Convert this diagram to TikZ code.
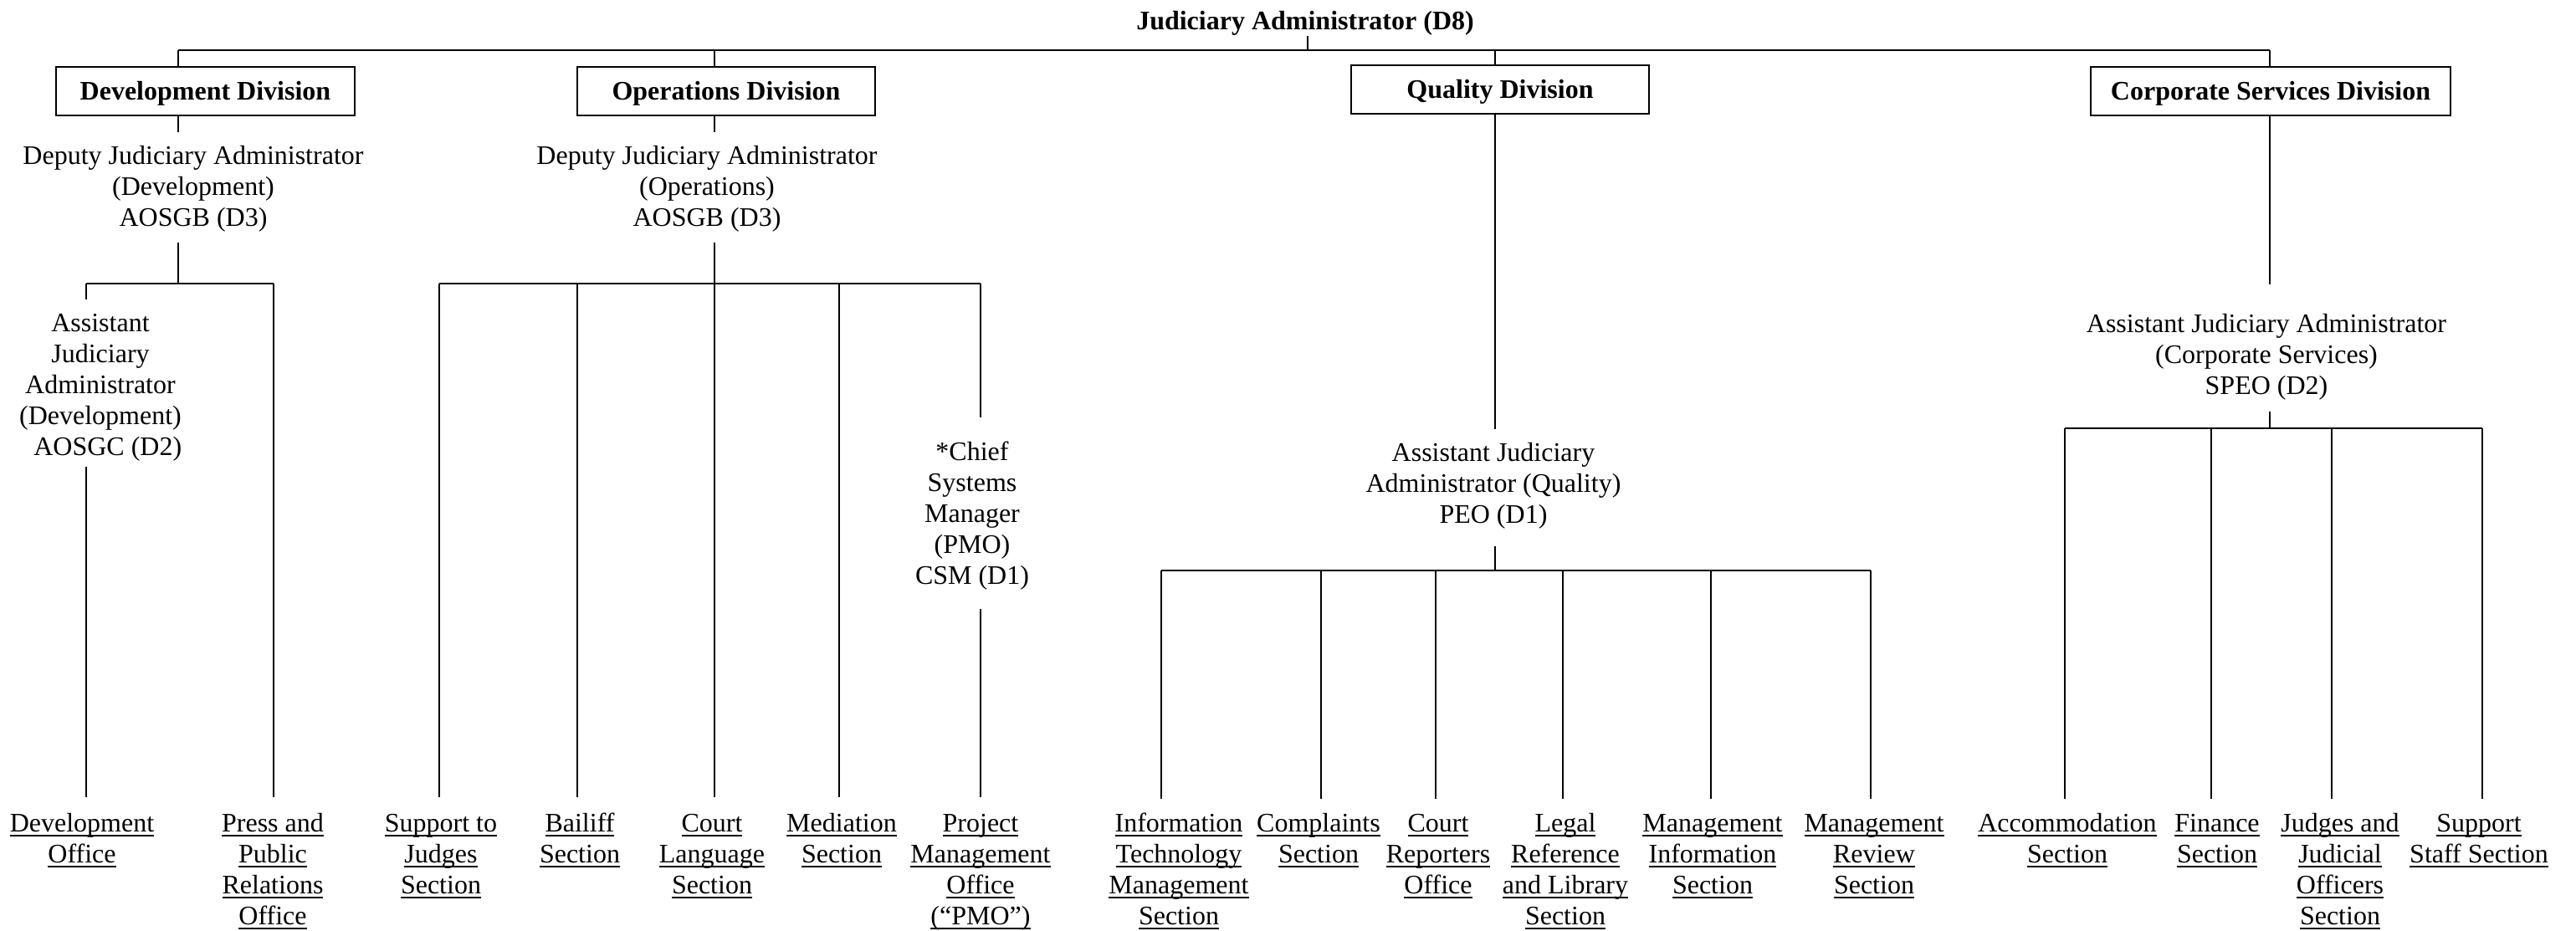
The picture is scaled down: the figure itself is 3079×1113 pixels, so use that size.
\documentclass[tikz,border=0pt]{standalone}
\usepackage{fontspec}
\setmainfont{Liberation Serif}
\usetikzlibrary{calc}
\newsavebox\ulbox
\newcommand\ulin[1]{\sbox\ulbox{#1}\makebox[0pt][l]{\rule[-5.6pt]{\wd\ulbox}{1.9pt}}\smash{\usebox\ulbox}}
\tikzset{
  bx/.style={draw, line width=2pt, minimum height=58pt, inner sep=0pt,
    font=\fontsize{32}{37}\selectfont\bfseries, text height=21pt, text depth=0pt},
  tx/.style={align=center, inner sep=0pt, anchor=north},
  lab/.style={align=center, inner sep=0pt, anchor=north},
  ln/.style={line width=1.6pt},
  bus/.style={line width=2.4pt},
}
\begin{document}
\begin{tikzpicture}[x=1pt,y=-1pt,font=\fontsize{32}{37}\selectfont]
\useasboundingbox (0,0) rectangle (3079,1113);

% top
\node[anchor=base, font=\fontsize{32}{37}\selectfont\bfseries] (ja) at (1560,36) {Judiciary Administrator (D8)};

% division boxes
\node[bx, minimum width=357pt] (devbox) at (245.5,109) {Development Division};
\node[bx, minimum width=356pt] (opsbox) at (868,109) {Operations Division};
\node[bx, minimum width=356pt] (qbox) at (1793,107) {Quality Division};
\node[bx, minimum width=430pt] (corpbox) at (2714,109) {Corporate Services Division};

% officer texts
\node[tx] (dep1) at (231,174) {Deputy Judiciary Administrator\\(Development)\\AOSGB (D3)};
\node[tx] (dep2) at (845,174) {Deputy Judiciary Administrator\\(Operations)\\AOSGB (D3)};
\node[tx] (asd) at (120,375) {Assistant\\Judiciary\\Administrator\\(Development)\\\hspace*{0.55em}AOSGC (D2)};
\node[tx] (csm) at (1162,528) {*Chief\\Systems\\Manager\\(PMO)\\CSM (D1)};
\node[tx] (aq) at (1785,529) {Assistant Judiciary\\Administrator (Quality)\\PEO (D1)};
\node[tx] (acs) at (2709,375) {Assistant Judiciary Administrator\\(Corporate Services)\\SPEO (D2)};

% bottom labels
\node[lab] (l1) at (98,994) {\ulin{Development}\\\ulin{Office}};
\node[lab] (l2) at (326,994) {\ulin{Press and}\\\ulin{Public}\\\ulin{Relations}\\\ulin{Office}};
\node[lab] (l3) at (527,994) {\ulin{Support to}\\\ulin{Judges}\\\ulin{Section}};
\node[lab] (l4) at (693,994) {\ulin{Bailiff}\\\ulin{Section}};
\node[lab] (l5) at (851,994) {\ulin{Court}\\\ulin{Language}\\\ulin{Section}};
\node[lab] (l6) at (1006,994) {\ulin{Mediation}\\\ulin{Section}};
\node[lab] (l7) at (1172,994) {\ulin{Project}\\\ulin{Management}\\\ulin{Office}\\\ulin{(“PMO”)}};
\node[lab] (q1) at (1409,994) {\ulin{Information}\\\ulin{Technology}\\\ulin{Management}\\\ulin{Section}};
\node[lab] (q2) at (1576,994) {\ulin{Complaints}\\\ulin{Section}};
\node[lab] (q3) at (1719,994) {\ulin{Court}\\\ulin{Reporters}\\\ulin{Office}};
\node[lab] (q4) at (1871,994) {\ulin{Legal}\\\ulin{Reference}\\\ulin{and Library}\\\ulin{Section}};
\node[lab] (q5) at (2047,994) {\ulin{Management}\\\ulin{Information}\\\ulin{Section}};
\node[lab] (q6) at (2240,994) {\ulin{Management}\\\ulin{Review}\\\ulin{Section}};
\node[lab] (c1) at (2471,994) {\ulin{Accommodation}\\\ulin{Section}};
\node[lab] (c2) at (2650,994) {\ulin{Finance}\\\ulin{Section}};
\node[lab] (c3) at (2797,994) {\ulin{Judges and}\\\ulin{Judicial}\\\ulin{Officers}\\\ulin{Section}};
\node[lab] (c4) at (2963,994) {\ulin{Support}\\\ulin{Staff Section}};

% top bus
\coordinate (tj) at (1563,60);
\coordinate (tdev) at (213,60);
\coordinate (tops) at (854,60);
\coordinate (tq) at (1787,60);
\coordinate (tcorp) at (2713,60);
\draw[bus] (tdev) -- (tcorp);
\draw[ln] ($(ja.south -| tj)+(0,-3)$) -- (tj);
\draw[ln] (tdev) -- (tdev |- devbox.north);
\draw[ln] (tops) -- (tops |- opsbox.north);
\draw[ln] (tq) -- (tq |- qbox.north);
\draw[ln] (tcorp) -- (tcorp |- corpbox.north);

% development
\coordinate (bdev) at (213,339);
\coordinate (bdevL) at (103,339);
\coordinate (bdevR) at (327,339);
\draw[ln] (devbox.south -| tdev) -- ($(dep1.north -| tdev)+(0,-16)$);
\draw[ln] ($(dep1.south -| tdev)+(0,13)$) -- (bdev);
\draw[bus] (bdevL) -- (bdevR);
\draw[ln] (bdevL) -- ($(asd.north -| bdevL)+(0,-17)$);
\draw[ln] ($(asd.south -| bdevL)+(0,7)$) -- ($(l1.north -| bdevL)+(0,-41)$);
\draw[ln] (bdevR) -- ($(l2.north -| bdevR)+(0,-41)$);

% operations
\coordinate (bops) at (854,339);
\coordinate (o1) at (525,339);
\coordinate (o2) at (690,339);
\coordinate (o4) at (1003,339);
\coordinate (o5) at (1172,339);
\draw[ln] (opsbox.south -| tops) -- ($(dep2.north -| tops)+(0,-16)$);
\draw[ln] ($(dep2.south -| tops)+(0,13)$) -- (bops);
\draw[bus] (o1) -- (o5);
\draw[ln] (o1) -- ($(l3.north -| o1)+(0,-41)$);
\draw[ln] (o2) -- ($(l4.north -| o2)+(0,-41)$);
\draw[ln] (bops) -- ($(l5.north -| bops)+(0,-41)$);
\draw[ln] (o4) -- ($(l6.north -| o4)+(0,-41)$);
\draw[ln] (o5) -- ($(csm.north -| o5)+(0,-29)$);
\draw[ln] ($(csm.south -| o5)+(0,22)$) -- ($(l7.north -| o5)+(0,-41)$);

% quality
\coordinate (bq) at (1787,682);
\coordinate (qa) at (1388,682);
\coordinate (qb) at (1579,682);
\coordinate (qc) at (1716,682);
\coordinate (qd) at (1868,682);
\coordinate (qe) at (2045,682);
\coordinate (qf) at (2236,682);
\draw[ln] (qbox.south -| tq) -- ($(aq.north -| tq)+(0,-16)$);
\draw[ln] ($(aq.south -| tq)+(0,21)$) -- (bq);
\draw[bus] (qa) -- (qf);
\draw[ln] (qa) -- ($(q1.north -| qa)+(0,-39)$);
\draw[ln] (qb) -- ($(q2.north -| qb)+(0,-39)$);
\draw[ln] (qc) -- ($(q3.north -| qc)+(0,-39)$);
\draw[ln] (qd) -- ($(q4.north -| qd)+(0,-39)$);
\draw[ln] (qe) -- ($(q5.north -| qe)+(0,-39)$);
\draw[ln] (qf) -- ($(q6.north -| qf)+(0,-39)$);

% corporate services
\coordinate (bc) at (2713,512);
\coordinate (ca) at (2468,512);
\coordinate (cb) at (2643,512);
\coordinate (cc) at (2787,512);
\coordinate (cd) at (2967,512);
\draw[ln] (corpbox.south -| tcorp) -- ($(acs.north -| tcorp)+(0,-35)$);
\draw[ln] ($(acs.south -| tcorp)+(0,14)$) -- (bc);
\draw[bus] (ca) -- (cd);
\draw[ln] (ca) -- ($(c1.north -| ca)+(0,-39)$);
\draw[ln] (cb) -- ($(c2.north -| cb)+(0,-39)$);
\draw[ln] (cc) -- ($(c3.north -| cc)+(0,-39)$);
\draw[ln] (cd) -- ($(c4.north -| cd)+(0,-39)$);
\end{tikzpicture}
\end{document}
